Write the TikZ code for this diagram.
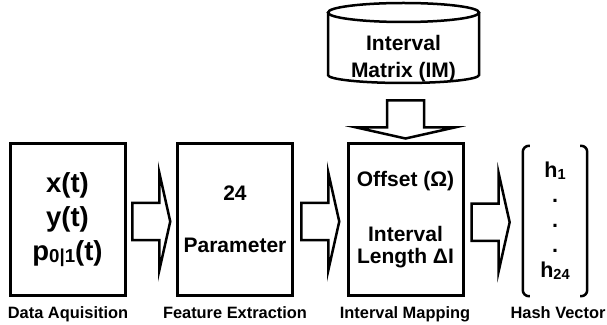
\documentclass[tikz,border=0pt]{standalone}
\usepackage{graphicx}
\usepackage{fontspec}
\setmainfont{Liberation Sans}
\usetikzlibrary{calc}

\newcommand{\subtxt}[1]{\raisebox{-0.1em}{\scalebox{0.68}{#1}}}
% block arrow centred at #1, turned by #2
\newcommand{\fatarrow}[2]{\draw[fatarr, shift={(#1)}, rotate=#2] (-19,-18.5)--(8,-18.5)--(8,-49)--(19,0)--(8,49)--(8,18.5)--(-19,18.5)--cycle;}

\tikzset{
  stage/.style={draw, line width=3pt, minimum width=115pt, minimum height=151pt, align=center, inner sep=0pt},
  bigtxt/.style={font=\bfseries\fontsize{27.5}{34}\selectfont},
  midtxt/.style={font=\bfseries\fontsize{21}{22}\selectfont},
  caption/.style={font=\bfseries\fontsize{16.4}{18}\selectfont, anchor=base},
  fatarr/.style={draw, line width=2.5pt, line join=miter, fill=white},
}

\begin{document}
\begin{tikzpicture}[x=1pt, y=1pt]
\useasboundingbox (0,0) rectangle (607,324);
% stages
\node[stage, bigtxt] (acq) at (67.5,104.5) {x(t)\\y(t)\\p\subtxt{0|1}(t)};
\node[stage, midtxt] (feat) at (235,104.5) {24\\[30pt]Parameter};
\node[stage, midtxt] (map) at (405.5,104.5) {Offset (Ω)\\[33pt]Interval\\Length ΔI};
\node[align=center, minimum width=64pt, minimum height=150pt, inner sep=0pt,
      font=\bfseries\fontsize{21.5}{25}\selectfont] (hash) at (555,103) {h\subtxt{1}\\.\\.\\.\\h\subtxt{24}};
\draw[line width=2.5pt, rounded corners=6pt] ($(hash.north west)+(7,0)$)--(hash.north west)--(hash.south west)--($(hash.south west)+(7,0)$);
\draw[line width=2.5pt, rounded corners=6pt] ($(hash.north east)+(-7,0)$)--(hash.north east)--(hash.south east)--($(hash.south east)+(-7,0)$);
% interval matrix
\draw[line width=2.5pt] (328,311.5)--(328,249) arc[start angle=180, end angle=360, x radius=75.5, y radius=8]--(479,311.5);
\draw[line width=2.5pt] (403.5,311.5) ellipse[x radius=75.5, y radius=9.5];
\node[align=center, font=\bfseries\fontsize{21}{27}\selectfont] (imat) at (403.5,265) {Interval\\Matrix (IM)};
% captions
\node[caption] (acqlbl) at (68,6) {Data Aquisition};
\node[caption] (featlbl) at (235,6) {Feature Extraction};
\node[caption] (maplbl) at (405,6) {Interval Mapping};
\node[caption] (hashlbl) at (558,6) {Hash Vector};
% arrows
\fatarrow{$(acq.east)!0.5!(feat.west)+(0,-2)$}{0}
\fatarrow{$(feat.east)!0.5!(map.west)+(0,-2)$}{0}
\fatarrow{$(map.east)!0.5!(hash.west)+(-3,-2)$}{0}
\fatarrow{$(map.north)+(0,23)$}{-90}
\end{tikzpicture}
\end{document}
